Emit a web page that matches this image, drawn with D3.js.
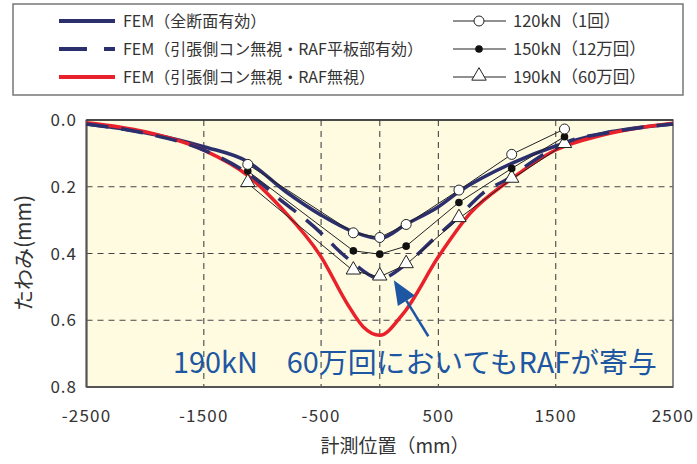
<!DOCTYPE html>
<html><head><meta charset="utf-8">
<script src="https://cdn.jsdelivr.net/npm/d3@7"></script>
<style>
html,body{margin:0;padding:0;background:#fff;}
svg{display:block;font-family:"Noto Sans CJK JP","Noto Sans",sans-serif;}
</style></head>
<body><svg id="c" width="697" height="464"></svg>
<script>
// ---- data ----
const measX = [-1125, -225, 0, 225, 675, 1125, 1575];
const meas120 = [0.133, 0.338, 0.352, 0.313, 0.21, 0.103, 0.027];
const meas150 = [0.153, 0.392, 0.402, 0.378, 0.247, 0.145, 0.05];
const meas190 = [0.19, 0.452, 0.47, 0.433, 0.295, 0.177, 0.073];

const femFullX = [-2500, -2000, -1500, -1125, -800, -500, -225, 0, 225, 500, 675, 1125, 1500, 1900, 2500];
const femFullY = [0.012, 0.038, 0.08, 0.125, 0.215, 0.285, 0.335, 0.355, 0.312, 0.26, 0.215, 0.13, 0.078, 0.04, 0.012];

const femRafX = [-2500, -2000, -1500, -1125, -1000, -820, -700, -500, -380, -225, 0, 235, 450, 660, 880, 1110, 1225, 1575, 2000, 2500];
const femRafY = [0.012, 0.04, 0.09, 0.16, 0.193, 0.247, 0.279, 0.339, 0.381, 0.429, 0.475, 0.429, 0.36, 0.294, 0.219, 0.172, 0.143, 0.069, 0.035, 0.012];

const femNoRafX = [-2500, -2000, -1500, -1130, -850, -500, -278, -140, 0, 200, 500, 770, 1110, 1500, 1900, 2500];
const femNoRafY = [0.008, 0.035, 0.09, 0.165, 0.26, 0.41, 0.55, 0.62, 0.645, 0.58, 0.41, 0.28, 0.18, 0.09, 0.045, 0.01];

const xTickLabels = [-2500, -1500, -500, 500, 1500, 2500];
const xGrid = [-1500, -500, 0, 500, 1500];
const yTickLabels = [0, 0.2, 0.4, 0.6, 0.8];
const yGrid = [0.2, 0.4, 0.6];

const legendLeft = ["FEM（全断面有効）", "FEM（引張側コン無視・RAF平板部有効）", "FEM（引張側コン無視・RAF無視）"];
const legendRight = ["120kN（1回）", "150kN（12万回）", "190kN（60万回）"];
const annotationText = "190kN　60万回においてもRAFが寄与";
const xTitle = "計測位置（mm）";
const yTitle = "たわみ(mm)";

// ---- styles ----
const NAVY = "#2c2f6d", RED = "#e8212b", BLUE = "#1d56a3";

const svg = d3.select("#c");
const x = d3.scaleLinear().domain([-2500, 2500]).range([86.5, 673]);
const y = d3.scaleLinear().domain([0, 0.8]).range([120, 387]);

// plot background
svg.append("rect").attr("x", x(-2500)).attr("y", y(0)).attr("width", x(2500) - x(-2500)).attr("height", y(0.8) - y(0)).attr("fill", "#fffbe0");

// grid
const g = svg.append("g");
g.selectAll(".vg").data(xGrid).join("line").attr("x1", d => x(d)).attr("x2", d => x(d)).attr("y1", y(0)).attr("y2", y(0.8))
  .attr("stroke", "#555").attr("stroke-width", 1.2).attr("stroke-dasharray", "6,5");
g.selectAll(".hg").data(yGrid).join("line").attr("x1", x(-2500)).attr("x2", x(2500)).attr("y1", d => y(d)).attr("y2", d => y(d))
  .attr("stroke", "#444").attr("stroke-width", 1.2).attr("stroke-dasharray", "6,5");

// frame
svg.append("rect").attr("x", x(-2500)).attr("y", y(0)).attr("width", x(2500) - x(-2500)).attr("height", y(0.8) - y(0))
  .attr("fill", "none").attr("stroke", "#666").attr("stroke-width", 1.5);
svg.append("line").attr("x1", x(-2500)).attr("x2", x(-2500)).attr("y1", y(0)).attr("y2", y(0.8)).attr("stroke", "#555").attr("stroke-width", 2);
svg.append("line").attr("x1", x(-2500)).attr("x2", x(2500)).attr("y1", y(0.8)).attr("y2", y(0.8)).attr("stroke", "#555").attr("stroke-width", 2);
svg.append("line").attr("x1", x(-2500)).attr("x2", x(2500)).attr("y1", y(0)).attr("y2", y(0)).attr("stroke", "#333").attr("stroke-width", 1.5);

// FEM curves
const line = d3.line().x(d => x(d[0])).y(d => y(d[1])).curve(d3.curveMonotoneX);
const zip = (a, b) => a.map((v, i) => [v, b[i]]);
svg.append("path").attr("d", line(zip(femFullX, femFullY))).attr("fill", "none").attr("stroke", NAVY).attr("stroke-width", 3.5);
svg.append("path").attr("d", line(zip(femNoRafX, femNoRafY))).attr("fill", "none").attr("stroke", RED).attr("stroke-width", 3.5);
svg.append("path").attr("d", line(zip(femRafX, femRafY))).attr("fill", "none").attr("stroke", NAVY).attr("stroke-width", 3.5).attr("stroke-dasharray", "22,13");

// measured lines
const lin = d3.line().x(d => x(d[0])).y(d => y(d[1]));
[meas120, meas150, meas190].forEach(m => {
  svg.append("path").attr("d", lin(zip(measX, m))).attr("fill", "none").attr("stroke", "#222").attr("stroke-width", 1);
});
const tri = d3.symbol().type(d3.symbolTriangle).size(90);
svg.selectAll(".m190").data(zip(measX, meas190)).join("path").attr("d", tri)
  .attr("transform", d => `translate(${x(d[0])},${y(d[1]) - 1})`).attr("fill", "#fff").attr("stroke", "#222").attr("stroke-width", 1);
svg.selectAll(".m150").data(zip(measX, meas150)).join("circle").attr("cx", d => x(d[0])).attr("cy", d => y(d[1])).attr("r", 3.8).attr("fill", "#111");
svg.selectAll(".m120").data(zip(measX, meas120)).join("circle").attr("cx", d => x(d[0])).attr("cy", d => y(d[1])).attr("r", 5).attr("fill", "#fff").attr("stroke", "#222").attr("stroke-width", 1);

// axes labels
svg.selectAll(".yt").data(yTickLabels).join("text").attr("x", 77).attr("y", d => y(d)).attr("dy", "0.36em")
  .attr("text-anchor", "end").attr("font-size", 17).attr("letter-spacing", 1).attr("fill", "#333").text(d => d3.format(".1f")(d));
svg.selectAll(".xt").data(xTickLabels).join("text").attr("x", d => x(d)).attr("y", 416).attr("dy", "0.36em")
  .attr("text-anchor", "middle").attr("font-size", 17).attr("letter-spacing", 1.2).attr("fill", "#333").text(d => d);
svg.append("text").attr("x", 395).attr("y", 446).attr("dy", "0.36em").attr("text-anchor", "middle").attr("font-size", 19).attr("fill", "#333").text(xTitle);
svg.append("text").attr("transform", "translate(23,253) rotate(-90)").attr("dy", "0.36em").attr("text-anchor", "middle")
  .attr("font-size", 21).attr("fill", "#333").text(yTitle);

// annotation
const ann = svg.append("text").attr("x", x(-1762)).attr("y", y(0.757)).attr("font-size", 27).attr("fill", BLUE).text(annotationText);
const w = ann.node().getComputedTextLength();
ann.attr("font-size", 27 * 484 / w);
const tipX = x(120), tipY = y(0.48), tailX = x(414), tailY = y(0.648);
const ang = Math.atan2(tailY - tipY, tailX - tipX);
const L = 24, W = 10;
const bx = tipX + L * Math.cos(ang), by = tipY + L * Math.sin(ang);
svg.append("line").attr("x1", tailX).attr("y1", tailY).attr("x2", bx).attr("y2", by).attr("stroke", BLUE).attr("stroke-width", 2.5);
svg.append("path").attr("d", `M${tipX},${tipY}L${bx + W * Math.sin(ang)},${by - W * Math.cos(ang)}L${bx - W * Math.sin(ang)},${by + W * Math.cos(ang)}Z`).attr("fill", BLUE);

// legend
svg.append("rect").attr("x", 13).attr("y", 4).attr("width", 670).attr("height", 91).attr("fill", "#fff").attr("stroke", "#777").attr("stroke-width", 1.5);
const rows = [21, 49, 77];
legendLeft.forEach((t, i) => {
  const ly = rows[i];
  if (i === 1) {
    svg.append("line").attr("x1", 59).attr("x2", 87).attr("y1", ly).attr("y2", ly).attr("stroke", NAVY).attr("stroke-width", 4);
    svg.append("line").attr("x1", 104).attr("x2", 115).attr("y1", ly).attr("y2", ly).attr("stroke", NAVY).attr("stroke-width", 4);
  } else {
    svg.append("line").attr("x1", 59).attr("x2", 115).attr("y1", ly).attr("y2", ly).attr("stroke", i === 0 ? NAVY : RED).attr("stroke-width", 4);
  }
  svg.append("text").attr("x", 123).attr("y", ly).attr("dy", "0.36em").attr("font-size", 16).attr("fill", "#333").text(t);
});
legendRight.forEach((t, i) => {
  const ly = rows[i];
  svg.append("line").attr("x1", 453).attr("x2", 506).attr("y1", ly).attr("y2", ly).attr("stroke", "#222").attr("stroke-width", 1);
  if (i === 0) svg.append("circle").attr("cx", 479).attr("cy", ly).attr("r", 5).attr("fill", "#fff").attr("stroke", "#222");
  if (i === 1) svg.append("circle").attr("cx", 479).attr("cy", ly).attr("r", 3.8).attr("fill", "#111");
  if (i === 2) svg.append("path").attr("d", tri).attr("transform", `translate(479,${ly - 1})`).attr("fill", "#fff").attr("stroke", "#222");
  svg.append("text").attr("x", 513).attr("y", ly).attr("dy", "0.36em").attr("font-size", 16.5).attr("fill", "#333").text(t);
});
</script></body></html>
